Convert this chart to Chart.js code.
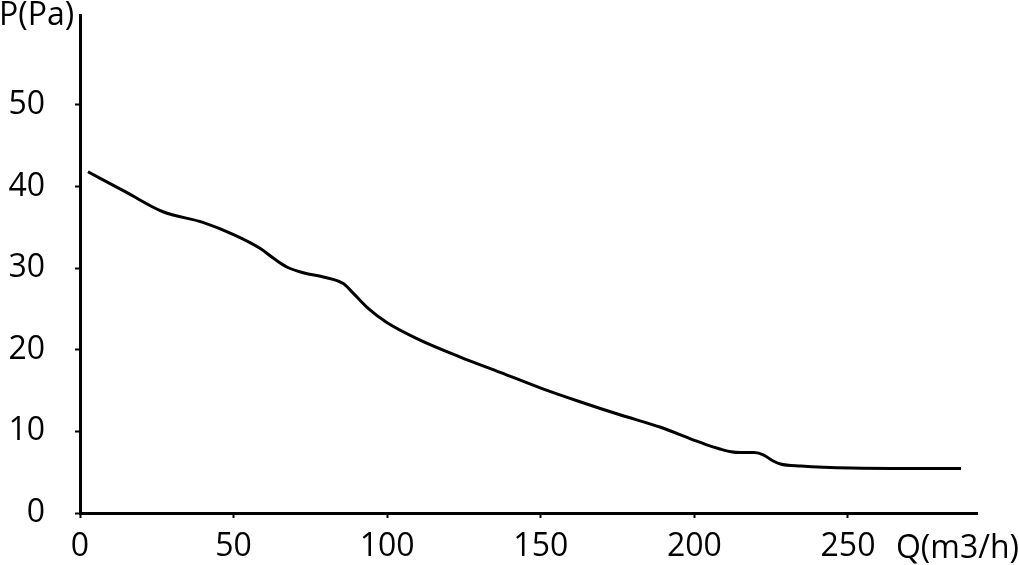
<!DOCTYPE html>
<html lang="en">
<head>
    <meta charset="UTF-8">
    <title>P-Q curve</title>
    <script src="https://cdn.jsdelivr.net/npm/chart.js"></script>
    <style>
        html, body {
            margin: 0;
            padding: 0;
            background: #fff;
        }
        #wrap {
            width: 1019px;
            height: 565px;
        }
    </style>
</head>
<body>
    <div id="wrap"><canvas id="chart"></canvas></div>
    <script>
        // airflow Q (m3/h) and pressure P (Pa)
        const flowQ = [2.6, 15, 27, 40, 50, 58.7, 63, 67.5, 73, 79.2, 85.7, 89, 94, 100, 110, 123.8, 137, 150, 163, 176, 189, 200, 206, 211.9, 215, 219.5, 222.6, 225.5, 228, 234.7, 251, 270, 286.8];
        const pressureP = [41.8, 39.3, 36.9, 35.6, 34.1, 32.4, 31.2, 30.1, 29.4, 28.9, 28.1, 26.9, 25.0, 23.3, 21.3, 19.1, 17.2, 15.3, 13.6, 12.0, 10.5, 8.9, 8.1, 7.5, 7.4, 7.4, 7.1, 6.4, 6.0, 5.75, 5.5, 5.45, 5.45];
        const xTicks = [0, 50, 100, 150, 200, 250];
        const yTicks = [0, 10, 20, 30, 40, 50];

        const FONT = '"Open Sans"';

        const axisTitles = {
            id: 'axisTitles',
            afterDraw(chart) {
                const ctx = chart.ctx;
                ctx.save();
                ctx.fillStyle = '#000';
                ctx.font = '32px ' + FONT;
                ctx.textBaseline = 'middle';
                ctx.textAlign = 'left';
                ctx.fillText('P(Pa)', -1, 16);
                ctx.textAlign = 'right';
                ctx.fillText('Q(m3/h)', 1019, 549);
                ctx.restore();
            }
        };

        const points = flowQ.map((q, i) => ({ x: q, y: pressureP[i] }));

        new Chart(document.getElementById('chart'), {
            type: 'line',
            data: {
                datasets: [{
                    data: points,
                    borderColor: '#000',
                    borderWidth: 3,
                    pointRadius: 0,
                    cubicInterpolationMode: 'monotone',
                    fill: false
                }]
            },
            options: {
                responsive: true,
                maintainAspectRatio: false,
                animation: false,
                layout: { padding: { top: 15, right: 42, left: 0, bottom: 0 } },
                plugins: {
                    legend: { display: false },
                    tooltip: { enabled: false }
                },
                scales: {
                    x: {
                        type: 'linear',
                        min: 0,
                        max: 292,
                        afterBuildTicks: s => { s.ticks = xTicks.map(v => ({ value: v })); },
                        afterFit: s => { s.height = 52; s.paddingLeft = 0; s.paddingRight = 0; },
                        border: { display: true, color: '#000', width: 3 },
                        grid: { drawOnChartArea: false, tickLength: 5, tickColor: '#000', tickWidth: 2 },
                        ticks: { color: '#000', font: { family: FONT, size: 32 }, padding: 10, maxRotation: 0 }
                    },
                    y: {
                        min: 0,
                        max: 61,
                        afterBuildTicks: s => { s.ticks = yTicks.map(v => ({ value: v })); },
                        afterFit: s => { s.width = 80; s.paddingTop = 0; s.paddingBottom = 0; },
                        border: { display: true, color: '#000', width: 3 },
                        grid: { drawOnChartArea: false, tickLength: 5, tickColor: '#000', tickWidth: 2 },
                        ticks: { color: '#000', font: { family: FONT, size: 32 }, padding: 30 }
                    }
                }
            },
            plugins: [axisTitles]
        });
    </script>
</body>
</html>
